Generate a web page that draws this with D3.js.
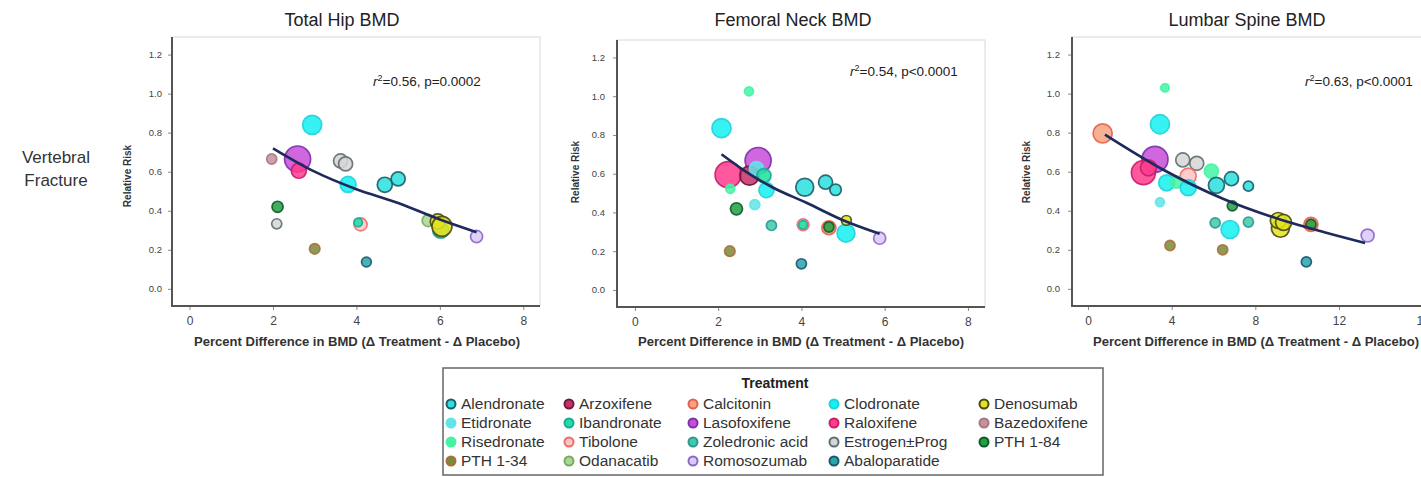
<!DOCTYPE html>
<html><head><meta charset="utf-8">
<script src="https://cdn.jsdelivr.net/npm/d3@7"></script>
<style>
body{margin:0;background:#fff;}
svg{display:block;font-family:"Liberation Sans",Arial,sans-serif;}
</style>
</head><body>
<svg id="chart" width="1421" height="477"></svg>
<script>
// ---------- DATA ----------
const panelTitles = ["Total Hip BMD", "Femoral Neck BMD", "Lumbar Spine BMD"];
const rowLabel = ["Vertebral", "Fracture"];
const xAxisLabel = "Percent Difference in BMD (\u0394 Treatment - \u0394 Placebo)";
const yAxisLabel = "Relative Risk";
const statR2 = ["0.56", "0.54", "0.63"];
const statP = ["p=0.0002", "p<0.0001", "p<0.0001"];
const yTicks = [0.0, 0.2, 0.4, 0.6, 0.8, 1.0, 1.2];
const xTicksHip = [0, 2, 4, 6, 8];
const xTicksNeck = [0, 2, 4, 6, 8];
const xTicksSpine = [0, 4, 8, 12, 16];

const treatments = [
  "Alendronate", "Arzoxifene", "Calcitonin", "Clodronate", "Denosumab",
  "Etidronate", "Ibandronate", "Lasofoxifene", "Raloxifene", "Bazedoxifene",
  "Risedronate", "Tibolone", "Zoledronic acid", "Estrogen\u00b1Prog", "PTH 1-84",
  "PTH 1-34", "Odanacatib", "Romosozumab", "Abaloparatide"
];

// [treatment, % BMD difference, relative risk, study weight]
const hipPoints = [
  ["Clodronate", 2.94, 0.84, 5.0],
  ["Lasofoxifene", 2.59, 0.665, 9.3],
  ["Raloxifene", 2.62, 0.605, 3.1],
  ["Bazedoxifene", 1.97, 0.665, 1.4],
  ["Estrogen\u00b1Prog", 3.62, 0.655, 2.7],
  ["Estrogen\u00b1Prog", 3.74, 0.64, 2.7],
  ["Clodronate", 3.80, 0.535, 3.5],
  ["Alendronate", 4.68, 0.533, 3.1],
  ["Alendronate", 5.00, 0.563, 2.7],
  ["PTH 1-84", 2.11, 0.42, 1.7],
  ["Estrogen\u00b1Prog", 2.09, 0.333, 1.4],
  ["Tibolone", 4.10, 0.33, 2.3],
  ["Ibandronate", 4.04, 0.34, 1.0],
  ["PTH 1-34", 3.00, 0.205, 1.5],
  ["Abaloparatide", 4.24, 0.137, 1.3],
  ["Zoledronic acid", 6.02, 0.30, 3.5],
  ["Odanacatib", 5.72, 0.35, 2.0],
  ["Denosumab", 5.95, 0.345, 3.1],
  ["Denosumab", 6.05, 0.32, 5.5],
  ["Romosozumab", 6.88, 0.268, 2.0]
];
const neckPoints = [
  ["Risedronate", 2.74, 1.025, 1.1],
  ["Clodronate", 2.08, 0.835, 5.0],
  ["Lasofoxifene", 2.96, 0.668, 9.3],
  ["Raloxifene", 2.24, 0.595, 9.3],
  ["Arzoxifene", 2.75, 0.59, 5.0],
  ["Etidronate", 2.92, 0.626, 2.7],
  ["Ibandronate", 3.10, 0.59, 2.7],
  ["Clodronate", 3.16, 0.515, 3.1],
  ["Risedronate", 2.29, 0.522, 1.1],
  ["Alendronate", 4.08, 0.53, 4.4],
  ["Alendronate", 4.58, 0.556, 2.7],
  ["Alendronate", 4.82, 0.517, 1.8],
  ["PTH 1-84", 2.44, 0.419, 2.0],
  ["Etidronate", 2.88, 0.44, 1.4],
  ["Zoledronic acid", 3.28, 0.333, 1.4],
  ["Tibolone", 4.04, 0.336, 1.9],
  ["Ibandronate", 4.04, 0.336, 1.0],
  ["PTH 1-34", 2.28, 0.20, 1.5],
  ["Calcitonin", 4.66, 0.321, 2.7],
  ["PTH 1-84", 4.66, 0.325, 1.4],
  ["Clodronate", 5.07, 0.293, 4.4],
  ["Denosumab", 5.08, 0.359, 1.3],
  ["Romosozumab", 5.88, 0.267, 2.0],
  ["Abaloparatide", 4.00, 0.135, 1.4]
];
const spinePoints = [
  ["Risedronate", 3.68, 1.03, 1.0],
  ["Clodronate", 3.44, 0.843, 5.0],
  ["Calcitonin", 0.70, 0.796, 5.0],
  ["Lasofoxifene", 3.20, 0.663, 9.3],
  ["Raloxifene", 2.65, 0.595, 7.9],
  ["Raloxifene", 2.89, 0.62, 3.5],
  ["Estrogen\u00b1Prog", 4.53, 0.66, 2.7],
  ["Estrogen\u00b1Prog", 5.20, 0.643, 2.7],
  ["Tibolone", 4.79, 0.577, 3.5],
  ["Clodronate", 3.76, 0.543, 3.5],
  ["Risedronate", 4.24, 0.547, 2.0],
  ["Clodronate", 4.79, 0.518, 3.5],
  ["Risedronate", 5.90, 0.603, 2.7],
  ["Alendronate", 6.14, 0.53, 3.5],
  ["Alendronate", 6.86, 0.564, 2.7],
  ["Alendronate", 7.67, 0.526, 1.4],
  ["Etidronate", 3.44, 0.444, 1.1],
  ["PTH 1-84", 6.90, 0.425, 1.4],
  ["Zoledronic acid", 6.08, 0.338, 1.4],
  ["Clodronate", 6.79, 0.304, 4.4],
  ["Zoledronic acid", 7.67, 0.342, 1.4],
  ["PTH 1-34", 3.92, 0.222, 1.4],
  ["PTH 1-34", 6.44, 0.20, 1.4],
  ["Denosumab", 9.20, 0.31, 4.4],
  ["Denosumab", 9.10, 0.35, 3.5],
  ["Denosumab", 9.35, 0.34, 3.5],
  ["Calcitonin", 10.66, 0.33, 2.7],
  ["PTH 1-84", 10.66, 0.33, 1.4],
  ["Romosozumab", 13.37, 0.273, 2.3],
  ["Abaloparatide", 10.44, 0.138, 1.4]
];

// meta-regression curves [x, RR]
const hipFit = [[2.0, 0.72], [3.0, 0.60], [4.0, 0.51], [5.0, 0.44], [6.0, 0.355], [6.88, 0.29]];
const neckFit = [[2.08, 0.70], [2.6, 0.62], [3.3, 0.53], [4.12, 0.45], [5.0, 0.36], [5.88, 0.29]];
const spineFit = [[0.81, 0.79], [3.6, 0.61], [6.48, 0.46], [9.19, 0.355], [11.3, 0.29], [13.25, 0.235]];

// ---------- STYLES ----------
const fillColors = {
  "Alendronate": "#2ce0e0", "Arzoxifene": "#c8306a", "Calcitonin": "#f4a484", "Clodronate": "#16f0f0",
  "Denosumab": "#e4e41e", "Etidronate": "#62e4e8", "Ibandronate": "#1ee09a", "Lasofoxifene": "#c84ed8",
  "Raloxifene": "#ff3c8e", "Bazedoxifene": "#c3939c", "Risedronate": "#44f4a4", "Tibolone": "#ffc4c4",
  "Zoledronic acid": "#44c8a8", "Estrogen\u00b1Prog": "#d6d6d6", "PTH 1-84": "#22a042",
  "PTH 1-34": "#7c8a3a", "Odanacatib": "#aad892", "Romosozumab": "#dacaf6", "Abaloparatide": "#2aa6aa"
};
const strokeColors = {
  "Alendronate": "#1b5e66", "Arzoxifene": "#6e1a3a", "Calcitonin": "#e86048", "Clodronate": "#22d2da",
  "Denosumab": "#4a4a12", "Etidronate": "#62e4e8", "Ibandronate": "#1aa8a0", "Lasofoxifene": "#7a32aa",
  "Raloxifene": "#c81e6a", "Bazedoxifene": "#a87880", "Risedronate": "#44f4a4", "Tibolone": "#f06a6a",
  "Zoledronic acid": "#2a9898", "Estrogen\u00b1Prog": "#5e6e70", "PTH 1-84": "#0f5a28",
  "PTH 1-34": "#a8703a", "Odanacatib": "#78a868", "Romosozumab": "#8a68c8", "Abaloparatide": "#1a5670"
};

const panels = [
  {title: panelTitles[0], pts: hipPoints, fit: hipFit, ticks: xTicksHip, left: 172, right: 540, top: 37, bottom: 306, xd: [-0.42, 8.4], titleX: 342, statX: 373, statY: 86, ylabX: 127, ylabY: 176, xlabX: 357},
  {title: panelTitles[1], pts: neckPoints, fit: neckFit, ticks: xTicksNeck, left: 617, right: 985, top: 40, bottom: 307, xd: [-0.43, 8.41], titleX: 793, statX: 850, statY: 76, ylabX: 575, ylabY: 172, xlabX: 801},
  {title: panelTitles[2], pts: spinePoints, fit: spineFit, ticks: xTicksSpine, left: 1072, right: 1440, top: 37, bottom: 306, xd: [-0.765, 16.83], titleX: 1247, statX: 1305, statY: 86, ylabX: 1026, ylabY: 172, xlabX: 1256}
];

const svg = d3.select("#chart");
svg.append("rect").attr("width", 1421).attr("height", 477).attr("fill", "#fff");

const rScale = d3.scaleSqrt().domain([0, 10]).range([0, 13.5]);

// Row label
svg.append("text").attr("text-anchor", "middle").attr("font-size", 17).attr("fill", "#333")
  .selectAll("tspan").data(rowLabel).join("tspan").attr("x", 56).attr("y", (d, i) => 163 + i * 23).text(d => d);

panels.forEach((p, pi) => {
  const x = d3.scaleLinear().domain(p.xd).range([p.left, p.right]);
  const y = d3.scaleLinear().domain([-0.088, 1.29]).range([p.bottom, p.top]);
  const g = svg.append("g");

  // frame
  g.append("rect").attr("x", p.left).attr("y", p.top).attr("width", p.right - p.left).attr("height", p.bottom - p.top)
    .attr("fill", "none").attr("stroke", "#d8d8d8").attr("stroke-width", 1);

  // axes
  const yAxis = d3.axisLeft(y).tickValues(yTicks).tickFormat(d3.format(".1f")).tickSize(4).tickPadding(pi === 0 ? 6 : 8);
  const ya = g.append("g").attr("transform", `translate(${p.left},0)`).call(yAxis);
  ya.select(".domain").remove();
  ya.selectAll("line").attr("stroke", "#888");
  ya.selectAll("text").attr("font-size", 9.5).attr("fill", "#444").attr("font-family", "Liberation Sans, Arial, sans-serif");

  const xAxis = d3.axisBottom(x).tickValues(p.ticks).tickFormat(d3.format("d")).tickSize(4).tickPadding(6);
  const xa = g.append("g").attr("transform", `translate(0,${p.bottom})`).call(xAxis);
  xa.select(".domain").remove();
  xa.selectAll("line").attr("stroke", "#888");
  xa.selectAll("text").attr("font-size", 12).attr("fill", "#444").attr("font-family", "Liberation Sans, Arial, sans-serif");

  g.append("line").attr("x1", p.left).attr("x2", p.left).attr("y1", p.top).attr("y2", p.bottom + 1)
    .attr("stroke", "#555").attr("stroke-width", 2);
  g.append("line").attr("x1", p.left - 1).attr("x2", p.right).attr("y1", p.bottom).attr("y2", p.bottom)
    .attr("stroke", "#555").attr("stroke-width", 2);

  // title
  g.append("text").attr("x", p.titleX).attr("y", 26).attr("text-anchor", "middle").attr("font-size", 18)
    .attr("fill", "#222").text(p.title);

  // axis labels
  g.append("text").attr("x", p.xlabX).attr("y", 346).attr("text-anchor", "middle")
    .attr("font-size", 12).attr("font-weight", "bold").attr("fill", "#333")
    .attr("textLength", 326).attr("lengthAdjust", "spacingAndGlyphs").text(xAxisLabel);
  g.append("text").attr("transform", `translate(${p.ylabX},${p.ylabY}) rotate(-90)`).attr("text-anchor", "middle")
    .attr("dy", "0.35em").attr("font-size", 10).attr("font-weight", "bold").attr("fill", "#333").text(yAxisLabel);

  // points
  g.append("g").selectAll("circle").data(p.pts).join("circle")
    .attr("cx", d => x(d[1])).attr("cy", d => y(d[2])).attr("r", d => rScale(d[3]))
    .attr("fill", d => fillColors[d[0]]).attr("fill-opacity", 0.86)
    .attr("stroke", d => strokeColors[d[0]]).attr("stroke-width", 1.7).attr("stroke-opacity", 0.9);

  // fit curve
  const line = d3.line().x(d => x(d[0])).y(d => y(d[1])).curve(d3.curveMonotoneX);
  g.append("path").attr("d", line(p.fit)).attr("fill", "none").attr("stroke", "#1e2a5c").attr("stroke-width", 2.6);

  // stats
  const st = g.append("text").attr("x", p.statX).attr("y", p.statY).attr("font-size", 13.5).attr("fill", "#222");
  st.append("tspan").attr("font-style", "italic").text("r");
  st.append("tspan").attr("font-size", 9).attr("dy", -5).text("2");
  st.append("tspan").attr("dy", 5).text("=" + statR2[pi] + ", " + statP[pi]);
});

// ---------- LEGEND ----------
const lg = svg.append("g");
lg.append("rect").attr("x", 443).attr("y", 368).attr("width", 660).attr("height", 107)
  .attr("fill", "#fff").attr("stroke", "#666").attr("stroke-width", 1.5);
lg.append("text").attr("x", 775).attr("y", 388).attr("text-anchor", "middle").attr("font-size", 14)
  .attr("font-weight", "bold").attr("fill", "#222").text("Treatment");
const colX = [451, 569, 693, 834, 984];
const rowY = [404, 423, 442, 461];
const items = lg.selectAll("g.item").data(treatments).join("g").attr("class", "item")
  .attr("transform", (d, i) => `translate(${colX[i % 5]},${rowY[Math.floor(i / 5)]})`);
items.append("circle").attr("r", 4.5).attr("fill", d => fillColors[d]).attr("stroke", d => strokeColors[d]).attr("stroke-width", 2);
items.append("text").attr("x", 10).attr("dy", "0.35em").attr("font-size", 15.5).attr("fill", "#333").text(d => d);
</script>
</body></html>
